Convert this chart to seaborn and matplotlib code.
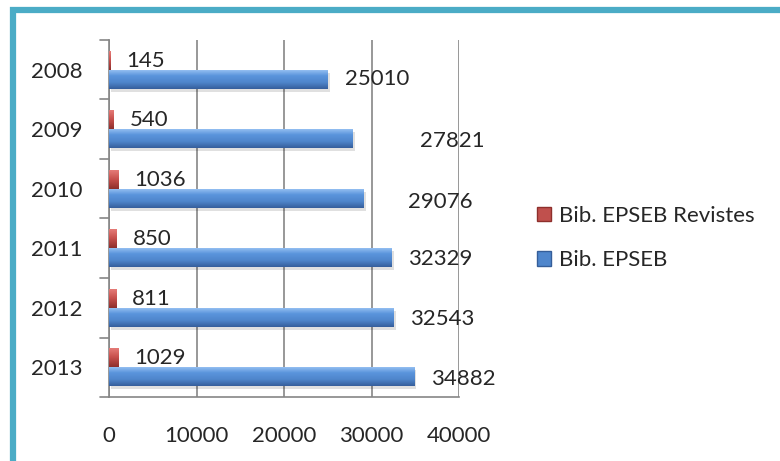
import numpy as np
import pandas as pd
import matplotlib
matplotlib.use("Agg")
import matplotlib.pyplot as plt
import seaborn as sns
from matplotlib.patches import Patch, Rectangle
from matplotlib.colors import LinearSegmentedColormap

# dades llegides del gràfic
years = ["2008", "2009", "2010", "2011", "2012", "2013"]
revistes = [145, 540, 1036, 850, 811, 1029]
epseb = [25010, 27821, 29076, 32329, 32543, 34882]
series_names = ["Bib. EPSEB Revistes", "Bib. EPSEB"]
xticks = [0, 10000, 20000, 30000, 40000]

df = pd.DataFrame({
    "year": years * 2,
    "value": revistes + epseb,
    "serie": [series_names[0]] * 6 + [series_names[1]] * 6,
})

sns.set_style("white")
plt.rcParams["font.family"] = ["Lato", "DejaVu Sans"]

fig = plt.figure(figsize=(7.8, 4.61), dpi=100)
ax = fig.add_axes([109 / 780, 1 - 397 / 461, 350 / 780, 357 / 461])

red = "#C0504D"
blue = "#4F86CC"
sns.barplot(data=df, x="value", y="year", hue="serie", hue_order=series_names,
            order=years, orient="h", palette=[red, blue], width=0.64,
            legend=False, ax=ax, linewidth=0, zorder=3)

# degradat tipus cilindre
cmaps = {
    "r": LinearSegmentedColormap.from_list("r", ["#E8807C", "#C8504D", "#8E2F2C"]),
    "b": LinearSegmentedColormap.from_list("b", ["#9CC5F4", "#5A94DC", "#4F86CC", "#365F9C"]),
}
grad = np.linspace(0, 1, 50).reshape(-1, 1)
for p in list(ax.patches):
    x0, y0 = p.get_x(), p.get_y()
    w, h = p.get_width(), p.get_height()
    key = "r" if p.get_facecolor()[0] > 0.6 else "b"
    # ombra
    if key == "b":
        ax.add_patch(Rectangle((x0 + 250, y0 + 0.05), w, h, color="#000000",
                               alpha=0.12, zorder=2, linewidth=0))
    im = ax.imshow(grad, cmap=cmaps[key], aspect="auto",
                   extent=[x0, x0 + w, y0 + h, y0], zorder=4)
    im.set_clip_path(p)

ax.set_xlim(0, 40000)
ax.set_ylim(5.5, -0.5)
ax.set_xticks(xticks)
ax.set_xticklabels([str(v) for v in xticks], fontsize=16)
ax.set_yticks(range(6))
ax.set_yticklabels(years, fontsize=16)
ax.set_xlabel("")
ax.set_ylabel("")
ax.tick_params(axis="y", length=0, pad=19)
ax.tick_params(axis="x", length=8, color="#868686", pad=13, direction="out")
ax.xaxis.grid(True, color="#868686", linewidth=1.2, zorder=0)
ax.set_axisbelow(True)
for s in ["top", "right"]:
    ax.spines[s].set_visible(False)
for s in ["left", "bottom"]:
    ax.spines[s].set_color("#868686")
    ax.spines[s].set_linewidth(1.2)
# marques de separació de categories
for b in np.arange(-0.5, 6, 1):
    ax.plot([-0.025, 0], [b, b], transform=ax.get_yaxis_transform(),
            color="#868686", lw=1.2, clip_on=False)

# etiquetes
blue_dx = [17, 68, 45, 16, 16, 17]
blue_dy = [0, -3, -4, -2, -2, -3]
for i in range(6):
    ax.annotate(str(revistes[i]), (revistes[i], i - 0.15), xytext=(16, 0),
                textcoords="offset pixels", va="center", ha="left", fontsize=16,
                zorder=6)
    ax.annotate(str(epseb[i]), (epseb[i], i + 0.15), xytext=(blue_dx[i], blue_dy[i]),
                textcoords="offset pixels", va="center", ha="left", fontsize=16,
                zorder=6)

handles = [Patch(facecolor=red, edgecolor="#8E2F2C"), Patch(facecolor=blue, edgecolor="#355E99")]
fig.legend(handles, series_names, loc="center left", bbox_to_anchor=(517 / 780, 1 - 238 / 461),
           frameon=False, fontsize=16, handlelength=0.65, handleheight=0.65,
           handletextpad=0.35, labelspacing=1.1)

# marc
fig.patches.append(Rectangle((13 / 780, -0.2), 2.0, 1.2 - 10 / 461, transform=fig.transFigure,
                             fill=False, edgecolor="#4BACC6", linewidth=4.5))

fig.savefig("out.png", dpi=100)
